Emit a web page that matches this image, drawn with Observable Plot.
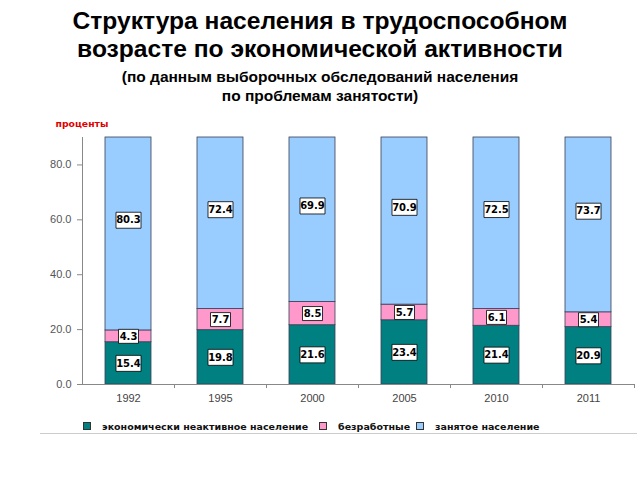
<!DOCTYPE html>
<html><head><meta charset="utf-8">
<script src="https://cdn.jsdelivr.net/npm/d3@7"></script>
<script src="https://cdn.jsdelivr.net/npm/@observablehq/plot@0.6"></script>
<style>
body{margin:0;background:#fff;width:640px;height:480px;position:relative;overflow:hidden;font-family:"Liberation Sans",Arial,sans-serif}
.t{position:absolute;left:0;width:640px;text-align:center;font-weight:bold;color:#000;white-space:nowrap;font-family:"Liberation Sans",Arial,sans-serif}
.t1{font-size:24.6px}
.t2{font-size:15.5px}
#chart{position:absolute;left:0;top:112px}
#legend{position:absolute;top:421px;left:0;width:640px;font-family:"DejaVu Sans",sans-serif;font-weight:bold;font-size:9.5px;color:#111;white-space:nowrap}
#legend span.item{position:absolute;top:0}
#legend i{display:inline-block;width:6px;height:6px;border:1px solid #333;margin-right:11px;vertical-align:0px}
#line{position:absolute;top:433px;left:40px;width:597px;height:1px;background:#ccc}
</style></head>
<body>
<div class="t t1" style="top:7px">Структура населения в трудоспособном</div>
<div class="t t1" style="top:35px">возрасте по экономической активности</div>
<div class="t t2" style="top:68px">(по данным выборочных обследований населения</div>
<div class="t t2" style="top:87px">по проблемам занятости)</div>
<div id="chart"></div>
<div id="legend"></div>
<div id="line"></div>
<script>
const years = ["1992","1995","2000","2005","2010","2011"];
const inactive = [15.4,19.8,21.6,23.4,21.4,20.9];
const unemployed = [4.3,7.7,8.5,5.7,6.1,5.4];
const employed = [80.3,72.4,69.9,70.9,72.5,73.7];
const seriesNames = ["экономически неактивное население","безработные","занятое население"];
const seriesColors = ["#008080","#ff99cc","#99ccff"];
const yTicks = [0,20,40,60,80];
const yLabel = "проценты";

const seriesValues = [inactive, unemployed, employed];
const data = [];
seriesNames.forEach((s, si) => years.forEach((y, i) => {
  const v = seriesValues[si][i];
  const label = v.toFixed(1);
  data.push({year: y, series: s, value: v, label, kind: label.length > 3 ? "long" : "short"});
}));

const boxLong = {draw(ctx){ ctx.rect(-12.5,-8,25,16); }};
const boxShort = {draw(ctx){ ctx.rect(-10,-7,20,14); }};
const stackOpts = {x: "year", y: "value", z: "series", order: seriesNames};

const plot = Plot.plot({
  width: 640,
  height: 302,
  marginLeft: 82,
  marginRight: 6,
  marginTop: 25,
  marginBottom: 30,
  style: {fontFamily: "Liberation Sans, Arial, sans-serif", fontSize: "11px", color: "#444", background: "transparent"},
  x: {domain: years, paddingInner: 0.5, paddingOuter: 0.25, label: null},
  y: {domain: [0, 90], clamp: true, label: null},
  color: {domain: seriesNames, range: seriesColors},
  symbol: {domain: ["long","short"], range: [boxLong, boxShort]},
  marks: [
    Plot.barY(data, Plot.stackY({...stackOpts, fill: "series", stroke: "#3a3f55", strokeWidth: 0.8})),
    Plot.dot(data, Plot.stackY({...stackOpts, symbol: "kind", fill: "white", stroke: "#000", strokeWidth: 0.8, r: 5})),
    Plot.text(data, Plot.stackY({...stackOpts, text: "label", fill: "#000", fontWeight: "bold", fontSize: 10, fontFamily: "DejaVu Sans, sans-serif"})),
    Plot.axisY({ticks: yTicks, tickFormat: d3.format(".1f"), tickSize: 5, tickPadding: 6, stroke: "#888", fill: "#555", fontSize: 11, label: null}),
    Plot.axisX({tickSize: 0, tickPadding: 10, fill: "#444", fontSize: 11, label: null}),
    Plot.axisX({text: null, tickSize: 4, dx: 46, stroke: "#888", label: null}),
    Plot.frame({anchor: "left", stroke: "#888"}),
    Plot.ruleY([0], {stroke: "#888"}),
    Plot.text([yLabel], {frameAnchor: "top-left", dx: -27, dy: -17, fill: "#e00000", fontWeight: "bold", fontSize: 9.3, fontFamily: "DejaVu Sans, sans-serif", textAnchor: "start"})
  ]
});
document.getElementById("chart").appendChild(plot);

const legend = document.getElementById("legend");
const lx = [83, 319, 416];
seriesNames.forEach((s, i) => {
  const sp = document.createElement("span");
  sp.className = "item";
  sp.style.left = lx[i] + "px";
  sp.innerHTML = `<i style="background:${seriesColors[i]}"></i>${s}`;
  legend.appendChild(sp);
});
</script>
</body></html>
